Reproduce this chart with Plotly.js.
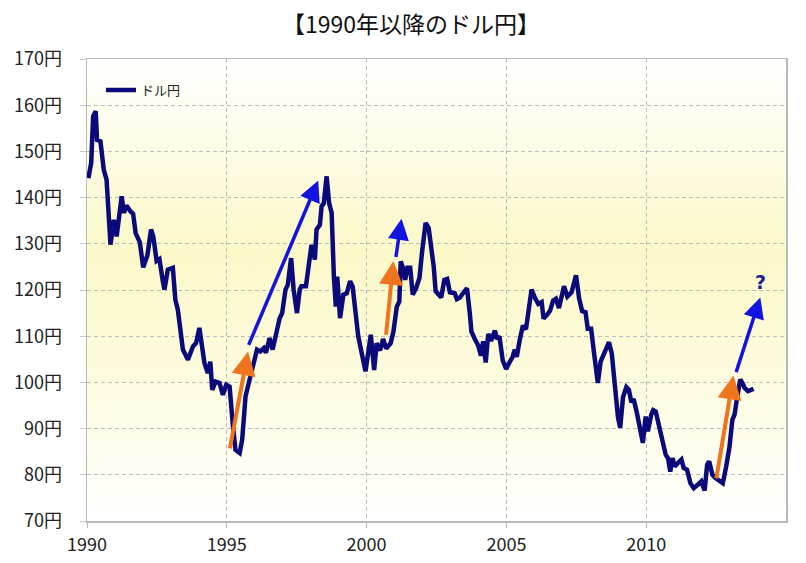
<!DOCTYPE html>
<html>
<head>
<meta charset="utf-8">
<script src="https://cdn.plot.ly/plotly-3.0.1.min.js"></script>
<style>
  html, body { margin: 0; padding: 0; background: #ffffff; }
  #chart { width: 806px; height: 563px; }
</style>
</head>
<body>
<div id="chart"></div>
<script>
// ---- data (decimal year, yen per dollar) ----
const years = [
  1990.05,1990.15,1990.22,1990.31,1990.36,1990.48,1990.60,1990.70,1990.84,1990.96,
  1991.06,1991.15,1991.24,1991.32,1991.41,1991.56,1991.65,1991.74,1991.89,1992.01,
  1992.16,1992.29,1992.37,1992.49,1992.59,1992.71,1992.77,1992.89,1993.07,1993.16,
  1993.25,1993.43,1993.61,1993.79,1993.90,1994.02,1994.12,1994.20,1994.32,1994.41,
  1994.48,1994.60,1994.74,1994.86,1994.98,1995.10,1995.22,1995.31,1995.46,1995.55,
  1995.67,1995.82,1995.96,1996.08,1996.20,1996.32,1996.40,1996.53,1996.64,1996.77,
  1996.89,1996.98,1997.10,1997.18,1997.30,1997.39,1997.51,1997.61,1997.67,1997.83,
  1997.91,1998.03,1998.15,1998.21,1998.33,1998.39,1998.47,1998.57,1998.66,1998.75,
  1998.83,1998.90,1998.95,1999.05,1999.17,1999.29,1999.41,1999.50,1999.70,1999.82,
  1999.96,2000.15,2000.27,2000.36,2000.48,2000.59,2000.70,2000.86,2000.96,2001.08,
  2001.17,2001.22,2001.32,2001.38,2001.46,2001.56,2001.65,2001.77,2001.89,2001.98,
  2002.11,2002.22,2002.31,2002.40,2002.47,2002.56,2002.67,2002.78,2002.88,2002.98,
  2003.05,2003.15,2003.23,2003.33,2003.45,2003.59,2003.69,2003.75,2003.87,2003.99,
  2004.09,2004.17,2004.26,2004.35,2004.45,2004.59,2004.66,2004.75,2004.87,2004.99,
  2005.11,2005.22,2005.30,2005.37,2005.47,2005.59,2005.70,2005.78,2005.90,2006.02,
  2006.14,2006.26,2006.33,2006.46,2006.56,2006.67,2006.77,2006.88,2007.06,2007.18,
  2007.33,2007.49,2007.60,2007.71,2007.83,2007.91,2008.03,2008.15,2008.27,2008.37,
  2008.48,2008.57,2008.67,2008.77,2008.87,2008.99,2009.07,2009.17,2009.29,2009.38,
  2009.47,2009.55,2009.67,2009.76,2009.88,2009.98,2010.06,2010.18,2010.25,2010.34,
  2010.46,2010.60,2010.70,2010.78,2010.86,2010.94,2011.02,2011.14,2011.26,2011.34,
  2011.46,2011.58,2011.70,2011.85,2011.97,2012.09,2012.18,2012.25,2012.37,2012.48,
  2012.62,2012.74,2012.86,2012.98,2013.08,2013.16,2013.24,2013.36,2013.43,2013.52,
  2013.64,2013.76,2013.84
];
const usdjpy = [
  144.2,147.5,157.6,158.7,152.5,152.2,146.0,143.9,129.8,135.2,
  131.6,135.2,140.3,136.7,138.3,137.0,136.5,132.3,130.3,124.9,
  127.5,133.1,131.6,126.3,126.7,122.0,120.1,124.4,124.8,117.9,
  115.7,107.1,104.9,107.8,108.5,111.8,107.1,104.2,102.0,104.5,
  98.4,100.2,99.9,97.3,99.5,99.1,90.5,85.4,84.7,87.6,
  97.0,100.6,104.0,107.1,106.7,107.4,106.4,109.6,107.1,110.7,
  113.9,115.0,120.1,121.1,126.9,120.1,115.0,120.1,120.8,120.8,
  125.1,129.8,126.6,133.1,134.1,138.1,138.8,144.6,138.8,136.7,
  122.9,116.4,122.9,113.9,119.0,119.3,121.9,120.8,110.0,106.0,
  102.4,110.3,102.7,108.5,106.9,109.4,107.3,108.5,111.0,116.4,
  117.5,126.2,124.4,122.2,124.8,124.8,119.0,120.4,122.6,128.0,
  134.5,133.4,129.4,125.1,119.7,119.0,118.4,122.2,122.4,119.5,
  119.5,119.3,118.0,118.3,119.3,120.4,115.0,111.0,109.4,108.0,
  105.8,108.9,104.3,110.5,109.0,111.2,109.4,110.0,104.7,102.9,
  104.3,105.5,107.1,105.5,109.0,112.3,111.5,114.8,120.1,118.3,
  117.0,117.4,113.8,114.7,115.5,117.7,118.1,116.1,120.8,118.6,
  119.5,123.2,118.2,115.4,115.2,111.6,111.6,105.6,99.9,104.5,
  106.0,107.8,108.7,106.2,99.0,92.5,90.2,96.8,99.0,98.4,
  95.7,96.4,93.3,91.0,86.9,92.6,89.4,93.0,94.0,93.7,
  90.5,86.9,84.3,83.6,80.7,83.6,81.8,82.6,83.3,81.5,
  81.1,78.2,77.1,77.9,78.6,76.6,82.2,82.9,80.0,79.3,
  78.6,78.2,81.8,86.1,91.9,93.0,96.2,100.6,100.0,98.8,
  98.1,98.4,98.6
];
const seriesName = 'ドル円';
const chartTitle = '【1990年以降のドル円】';
const yTicks = [70, 80, 90, 100, 110, 120, 130, 140, 150, 160, 170];
const yTickText = ['70円', '80円', '90円', '100円', '110円', '120円', '130円', '140円', '150円', '160円', '170円'];
const xTicks = [1990, 1995, 2000, 2005, 2010];
const xTickText = ['1990', '1995', '2000', '2005', '2010'];

// trend arrows: [tailYear, tailValue, headYear, headValue]
const orangeArrows = [
  [1995.10, 85.4, 1995.76, 106.7],
  [2000.69, 110.0, 2000.96, 126.3],
  [2012.50, 78.9, 2013.12, 101.5]
];
const blueArrows = [
  [1995.76, 107.8, 1998.27, 143.7],
  [2001.04, 126.8, 2001.25, 135.4],
  [2013.20, 101.9, 2014.08, 118.4]
];
const questionMark = [2014.07, 121.8];

// ---- background gradient image ----
const svgBg = "<svg xmlns='http://www.w3.org/2000/svg' width='100' height='100' preserveAspectRatio='none'>" +
  "<defs><linearGradient id='g' x1='0' y1='0' x2='0' y2='1'>" +
  "<stop offset='0' stop-color='#ffffff'/>" +
  "<stop offset='0.42' stop-color='#fbf8c8'/>" +
  "<stop offset='0.7' stop-color='#fdfbdf'/>" +
  "<stop offset='1' stop-color='#ffffff'/>" +
  "</linearGradient></defs><rect width='100' height='100' fill='url(#g)'/></svg>";
const bgSrc = 'data:image/svg+xml;charset=utf-8,' + encodeURIComponent(svgBg);

const annotations = [];
function addArrow(a, color, width) {
  annotations.push({
    x: a[2], y: a[3], ax: a[0], ay: a[1],
    xref: 'x', yref: 'y', axref: 'x', ayref: 'y',
    text: '', showarrow: true,
    arrowhead: 2, arrowsize: 1.2, arrowwidth: width, arrowcolor: color,
    standoff: 0, startstandoff: 0
  });
}
orangeArrows.forEach(a => addArrow(a, '#ef741c', 4));
blueArrows.forEach(a => addArrow(a, '#1414e0', 3.5));
annotations.push({
  x: questionMark[0], y: questionMark[1], xref: 'x', yref: 'y',
  text: '<b>?</b>', showarrow: false,
  font: { family: 'DejaVu Sans, sans-serif', size: 19, color: '#1c1c96' }
});

const trace = {
  x: years, y: usdjpy, type: 'scatter', mode: 'lines', name: seriesName,
  line: { color: '#0a0a7a', width: 4.5 }
};

const fontFam = '"Noto Sans CJK JP", "Noto Sans", sans-serif';
const layout = {
  width: 806, height: 563,
  margin: { l: 87, r: 20, t: 59, b: 42 },
  paper_bgcolor: 'rgba(0,0,0,0)',
  plot_bgcolor: 'rgba(0,0,0,0)',
  font: { family: fontFam, color: '#222222' },
  title: {
    text: chartTitle, x: 0.51, xref: 'container', xanchor: 'center',
    y: 0.955, yref: 'container', yanchor: 'middle',
    font: { family: fontFam, size: 23, color: '#111111', weight: 400 }
  },
  showlegend: true,
  legend: {
    x: 0.02, y: 0.965, xanchor: 'left', yanchor: 'top',
    bgcolor: 'rgba(0,0,0,0)', font: { family: fontFam, size: 13, color: '#222' }
  },
  xaxis: {
    range: [1990, 2015], tickmode: 'array', tickvals: xTicks, ticktext: xTickText,
    showgrid: true, gridcolor: '#bdbdbd', griddash: '4px,3px', gridwidth: 1,
    showline: true, linecolor: '#b8b8b8', linewidth: 1.5, mirror: true,
    ticks: 'outside', ticklen: 5, tickcolor: '#b8b8b8',
    tickfont: { size: 18, color: '#222' }, ticklabelstandoff: 2,
    zeroline: false, fixedrange: true
  },
  yaxis: {
    range: [70, 170], tickmode: 'array', tickvals: yTicks, ticktext: yTickText,
    showgrid: true, gridcolor: '#bdbdbd', griddash: '4px,3px', gridwidth: 1,
    showline: true, linecolor: '#b8b8b8', linewidth: 1.5, mirror: true,
    ticks: 'outside', ticklen: 6, tickcolor: '#c8c8c8',
    tickfont: { size: 18, color: '#222' }, ticklabelstandoff: 14,
    zeroline: false, fixedrange: true
  },
  images: [{
    source: bgSrc, xref: 'paper', yref: 'paper', x: 0, y: 1,
    sizex: 1, sizey: 1, sizing: 'stretch', layer: 'below',
    xanchor: 'left', yanchor: 'top'
  }],
  annotations: annotations
};

Plotly.newPlot('chart', [trace], layout, { staticPlot: true, displayModeBar: false });
</script>
</body>
</html>
